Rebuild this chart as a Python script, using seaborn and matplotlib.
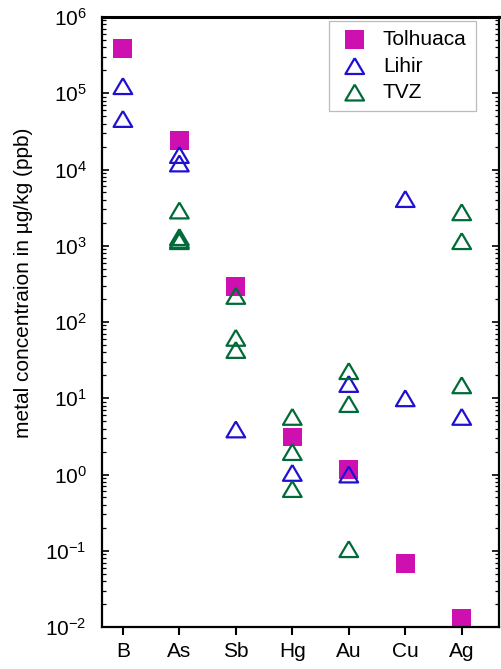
import matplotlib
matplotlib.use("Agg")
import matplotlib.pyplot as plt
import seaborn as sns
import numpy as np
import pandas as pd
from matplotlib.ticker import LogLocator, NullFormatter, FixedLocator, LogFormatterSciNotation

sns.set_theme(style="ticks")
plt.rcParams['font.family'] = ['Liberation Sans', 'DejaVu Sans']
plt.rcParams['mathtext.fontset'] = 'custom'
plt.rcParams['mathtext.rm'] = 'Liberation Sans'
plt.rcParams['mathtext.it'] = 'Liberation Sans:italic'
plt.rcParams['mathtext.bf'] = 'Liberation Sans:bold'
plt.rcParams['mathtext.sf'] = 'Liberation Sans'
plt.rcParams['text.color'] = 'black'
plt.rcParams['xtick.color'] = 'black'
plt.rcParams['ytick.color'] = 'black'
plt.rcParams['axes.labelcolor'] = 'black'

# ---- data ----
elements = ["B", "As", "Sb", "Hg", "Au", "Cu", "Ag"]

tolhuaca_el = ["B", "As", "Sb", "Hg", "Au", "Cu", "Ag"]
tolhuaca_val = [3.9e5, 2.4e4, 295, 3.1, 1.15, 0.068, 0.013]

lihir_el = ["B", "B", "As", "As", "Sb", "Hg", "Au", "Au", "Cu", "Cu", "Ag"]
lihir_val = [1.24e5, 4.6e4, 1.55e4, 1.2e4, 3.9, 1.05, 15.4, 1.0, 4.1e3, 10, 5.7]

tvz_el = ["As", "As", "As", "As", "Sb", "Sb", "Sb", "Hg", "Hg", "Hg", "Au", "Au", "Au", "Ag", "Ag", "Ag"]
tvz_val = [2.9e3, 1.3e3, 1.2e3, 1.15e3, 220, 62, 43, 5.7, 1.97, 0.645, 22.7, 8.4, 0.105, 2.75e3, 1.15e3, 14.8]

y_ticks = [1e-2, 1e-1, 1e0, 1e1, 1e2, 1e3, 1e4, 1e5, 1e6]

colors = {"Tolhuaca": "#CF10B0", "Lihir": "#2010D0", "TVZ": "#006B38"}

pos = {e: i for i, e in enumerate(elements)}
df_t = pd.DataFrame({"x": [pos[e] for e in tolhuaca_el], "y": tolhuaca_val})
df_l = pd.DataFrame({"x": [pos[e] for e in lihir_el], "y": lihir_val})
df_v = pd.DataFrame({"x": [pos[e] for e in tvz_el], "y": tvz_val})

fig = plt.figure(figsize=(5.01, 6.69), dpi=100)
ax = fig.add_axes([102/501, 42/669, 397/501, 610/669])

tri = [(0, 0.85), (-1, -0.85), (1, -0.85), (0, 0.85)]

sns.scatterplot(data=df_t, x="x", y="y", ax=ax, marker="s", s=185,
                color=colors["Tolhuaca"], edgecolor="none", linewidth=0,
                label="Tolhuaca", zorder=2)
sns.scatterplot(data=df_l, x="x", y="y", ax=ax, marker=tri, s=180,
                facecolor="none", edgecolor=colors["Lihir"], linewidth=1.6,
                label="Lihir", zorder=3)
sns.scatterplot(data=df_v, x="x", y="y", ax=ax, marker=tri, s=180,
                facecolor="none", edgecolor=colors["TVZ"], linewidth=1.6,
                label="TVZ", zorder=3)

ax.set_yscale("log")
ax.set_ylim(1e-2, 1e6)
ax.set_xlim(-0.37, 6.66)
ax.set_xticks(range(len(elements)))
ax.set_xticklabels(elements)
ax.set_xlabel("")
ax.xaxis.label.set_visible(False)
ax.set_ylabel("metal concentraion in µg/kg (ppb)", fontsize=15)
ax.yaxis.set_label_coords(-0.174, 0.564)

ax.yaxis.set_major_locator(FixedLocator(y_ticks))
ax.yaxis.set_major_formatter(LogFormatterSciNotation())
ax.yaxis.set_minor_locator(LogLocator(base=10, subs=np.arange(2, 10), numticks=20))
ax.yaxis.set_minor_formatter(NullFormatter())

ax.tick_params(axis="y", which="major", direction="in", length=5, width=1.2,
               left=True, right=True, labelsize=15, pad=11)
ax.tick_params(axis="y", which="minor", direction="in", length=3, width=0.9,
               left=True, right=True)
ax.tick_params(axis="x", which="major", direction="out", length=6, width=1.5,
               labelsize=15, pad=5, top=False)

for side in ["left", "right", "top", "bottom"]:
    ax.spines[side].set_visible(True)
    ax.spines[side].set_color("black")
    ax.spines[side].set_linewidth(1.6)
ax.spines["top"].set_linewidth(2.2)

leg = ax.legend(loc="upper right", bbox_to_anchor=(0.942, 0.994), fontsize=15,
                frameon=True, fancybox=False, edgecolor="#aaaaaa",
                labelspacing=0.36, handletextpad=0.55, borderpad=0.45,
                handlelength=1.6, borderaxespad=0)
leg.get_frame().set_linewidth(0.9)

fig.savefig("out.png", dpi=100)
